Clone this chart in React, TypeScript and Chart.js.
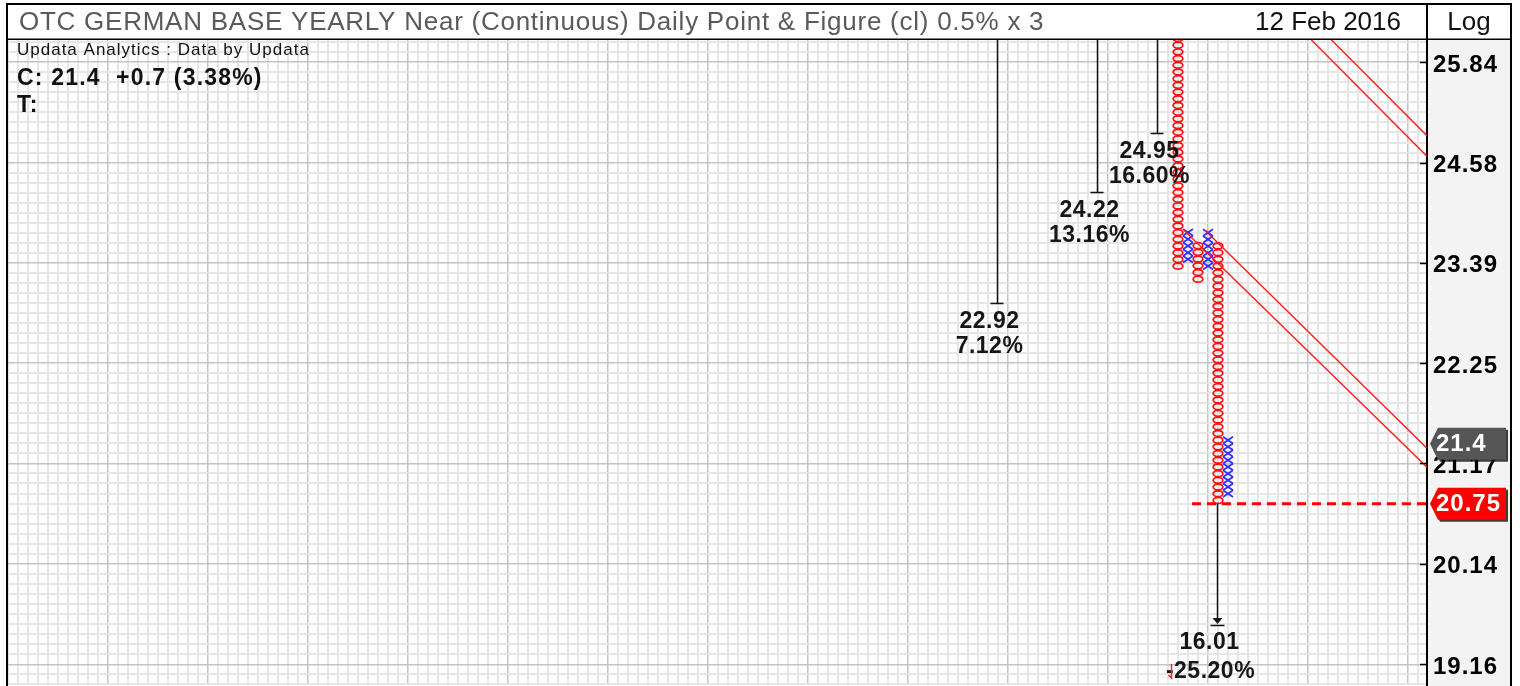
import React, { useEffect, useRef } from 'react';
import { Chart, registerables } from 'chart.js';

Chart.register(...registerables);

const FONT = '"Liberation Sans", Arial, Helvetica, sans-serif';

// ---- texts ----
const titleText = 'OTC GERMAN BASE YEARLY Near (Continuous) Daily Point & Figure (cl) 0.5% x 3';
const dateText = '12 Feb 2016';
const scaleText = 'Log';
const sourceText = 'Updata Analytics : Data by Updata';
const closeText = 'C: 21.4  +0.7 (3.38%)';
const trendText = 'T:';

// ---- axis tick labels (log scale) ----
const yTickLabels = [19.16, 20.14, 21.17, 22.25, 23.39, 24.58, 25.84];
const boxesPerTick = 15;

// ---- point & figure columns ----
const colIndex = [117, 118, 119, 120, 121, 122];
const colType = ['O', 'X', 'O', 'X', 'O', 'X'];
const colLow = [23.31, 23.39, 23.16, 23.31, 20.75, 20.82];
const colHigh = [26.5, 23.78, 23.62, 23.78, 23.62, 21.45];

// ---- price targets ----
const upTargetCols = [99, 109, 115];
const upTargetValues = [22.92, 24.22, 24.95];
const upTargetPcts = ['7.12%', '13.16%', '16.60%'];

const downTargetCol = 121;
const downTargetFrom = 20.75;
const downTargetValue = 16.01;
const downTargetPct = '-25.20%';

// ---- 45 degree trend lines ----
const trendStartCol = [132.3, 130.3, 119.7, 117.5];
const trendStartPrice = [26.13, 26.13, 23.77, 23.78];
const trendEndCol = [141.9, 141.9, 141.9, 141.9];
const trendEndPrice = [24.91, 24.66, 21.33, 21.13];

// ---- reversal level / last close ----
const reversalStartCol = 118.4;
const reversalLevel = 20.75;
const lastClose = 21.4;

const X_MIN = 0;
const X_MAX = 141.9;
const Y_MIN = 18.964;
const Y_MAX = 26.124;

const MAJOR_GRID = '#c4c4c4';
const MINOR_GRID = '#e6e6e6';

function buildYTicks() {
  const out: any[] = [];
  const first = yTickLabels[0];
  const last = yTickLabels[yTickLabels.length - 1];
  const r = Math.pow(yTickLabels[1] / yTickLabels[0], 1 / 10);
  for (let s = 3; s >= 1; s--) out.push({ value: first / Math.pow(r, s), isMajorTick: false });
  for (let i = 0; i < yTickLabels.length; i++) {
    out.push({ value: yTickLabels[i], isMajorTick: true });
    if (i < yTickLabels.length - 1) {
      const lo = yTickLabels[i];
      const hi = yTickLabels[i + 1];
      for (let s = 1; s < 10; s++) out.push({ value: lo * Math.pow(hi / lo, s / 10), isMajorTick: false });
    }
  }
  for (let s = 1; s <= 3; s++) out.push({ value: last * Math.pow(r, s), isMajorTick: false });
  return out.filter((t) => t.value >= Y_MIN && t.value <= Y_MAX);
}

function buildXTicks() {
  const out: any[] = [];
  for (let i = Math.ceil(X_MIN); i <= X_MAX; i++) out.push({ value: i, isMajorTick: i % 10 === 0 });
  return out;
}

function setSpacing(ctx: any, px: number) {
  if ('letterSpacing' in ctx) ctx.letterSpacing = `${px}px`;
}

const backgroundPlugin = {
  id: 'pfBackground',
  beforeDraw(chart: any) {
    const { ctx, chartArea: a } = chart;
    ctx.save();
    ctx.fillStyle = '#ffffff';
    ctx.fillRect(0, 0, chart.width, chart.height);
    ctx.fillStyle = '#f3f3f3';
    ctx.fillRect(a.right, a.top, 1511 - a.right, chart.height - a.top);
    ctx.restore();
    // wider letter spacing for axis labels, like the reference
    setSpacing(ctx, 1);
  },
};

const glyphPlugin = {
  id: 'pfGlyphs',
  beforeDatasetsDraw(chart: any) {
    const { ctx, chartArea: a, scales } = chart;
    const ys = scales.y;
    const meta = chart.getDatasetMeta(0);
    const box = Math.pow(yTickLabels[1] / yTickLabels[0], 1 / boxesPerTick);
    ctx.save();
    ctx.beginPath();
    ctx.rect(a.left, a.top, a.right - a.left, a.bottom - a.top);
    ctx.clip();
    ctx.lineWidth = 1.8;
    meta.data.forEach((el: any, i: number) => {
      const low = colLow[i];
      const high = colHigh[i];
      const n = Math.round(Math.log(high / low) / Math.log(box));
      const yb = ys.getPixelForValue(low);
      const step = yb - ys.getPixelForValue(low * box);
      const cx = el.x;
      for (let b = 0; b < n; b++) {
        const cy = yb - step * (b + 0.5);
        if (colType[i] === 'O') {
          ctx.strokeStyle = '#ff1010';
          ctx.beginPath();
          ctx.ellipse(cx, cy, 4.8, step / 2 - 0.4, 0, 0, Math.PI * 2);
          ctx.stroke();
        } else {
          ctx.strokeStyle = '#3030ff';
          const hw = 5;
          const hh = step / 2;
          ctx.beginPath();
          ctx.moveTo(cx - hw, cy - hh);
          ctx.lineTo(cx + hw, cy + hh);
          ctx.moveTo(cx + hw, cy - hh);
          ctx.lineTo(cx - hw, cy + hh);
          ctx.stroke();
        }
      }
    });
    ctx.restore();
  },
};

function drawTag(ctx: any, cy: number, fill: string, text: string) {
  const L = 1430;
  const R = 1506;
  const h = 16;
  const path = (dx: number, dy: number) => {
    ctx.beginPath();
    ctx.moveTo(L + dx, cy + dy);
    ctx.lineTo(L + 8 + dx, cy - h + dy);
    ctx.lineTo(R + dx, cy - h + dy);
    ctx.lineTo(R + dx, cy + h + dy);
    ctx.lineTo(L + 8 + dx, cy + h + dy);
    ctx.closePath();
  };
  ctx.fillStyle = 'rgba(0,0,0,0.75)';
  path(2, 2);
  ctx.fill();
  ctx.fillStyle = fill;
  path(0, 0);
  ctx.fill();
  ctx.fillStyle = '#ffffff';
  ctx.font = `bold 24px ${FONT}`;
  setSpacing(ctx, 1);
  ctx.textAlign = 'left';
  ctx.textBaseline = 'middle';
  ctx.fillText(text, L + 6, cy + 1);
}

const annotationPlugin = {
  id: 'pfAnnotations',
  afterDatasetsDraw(chart: any) {
    const { ctx, chartArea: a, scales } = chart;
    const xs = scales.x;
    const ys = scales.y;
    ctx.save();
    ctx.beginPath();
    ctx.rect(a.left, a.top, a.right - a.left, a.bottom - a.top);
    ctx.clip();
    ctx.strokeStyle = '#111111';
    ctx.fillStyle = '#161616';
    ctx.lineWidth = 1.5;
    ctx.font = `bold 23px ${FONT}`;
    setSpacing(ctx, 0.5);
    ctx.textAlign = 'center';
    ctx.textBaseline = 'middle';
    upTargetCols.forEach((c, i) => {
      const x = Math.round(xs.getPixelForValue(c)) - 0.5;
      const y = Math.round(ys.getPixelForValue(upTargetValues[i])) + 0.5;
      ctx.beginPath();
      ctx.moveTo(x, a.top);
      ctx.lineTo(x, y);
      ctx.moveTo(x - 7, y);
      ctx.lineTo(x + 6, y);
      ctx.stroke();
      ctx.fillText(upTargetValues[i].toFixed(2), x - 8, y + 18);
      ctx.fillText(upTargetPcts[i], x - 8, y + 43);
    });
    // down target
    const dx = Math.round(xs.getPixelForValue(downTargetCol)) - 0.5;
    const dy0 = ys.getPixelForValue(downTargetFrom);
    const dyEnd = a.bottom - 60;
    ctx.beginPath();
    ctx.moveTo(dx, dy0);
    ctx.lineTo(dx, dyEnd - 4);
    ctx.stroke();
    ctx.beginPath();
    ctx.moveTo(dx - 5, dyEnd - 7);
    ctx.lineTo(dx + 5, dyEnd - 7);
    ctx.lineTo(dx, dyEnd - 1);
    ctx.closePath();
    ctx.fill();
    ctx.beginPath();
    ctx.moveTo(dx - 7, dyEnd + 0.5);
    ctx.lineTo(dx + 7, dyEnd + 0.5);
    ctx.stroke();
    ctx.fillText(downTargetValue.toFixed(2), dx - 8, dyEnd + 18);
    ctx.fillText(downTargetPct, dx - 7, dyEnd + 47);
    // small red marker by the down-count percentage
    ctx.strokeStyle = '#ff2020';
    ctx.lineWidth = 1.5;
    ctx.beginPath();
    ctx.moveTo(dx - 46, dyEnd + 39);
    ctx.lineTo(dx - 46, dyEnd + 53);
    ctx.lineTo(dx - 49, dyEnd + 50);
    ctx.stroke();
    ctx.restore();
  },
  afterDraw(chart: any) {
    const { ctx, chartArea: a, scales } = chart;
    const ys = scales.y;
    ctx.save();
    // frame
    ctx.strokeStyle = '#000000';
    ctx.lineWidth = 2;
    ctx.beginPath();
    ctx.moveTo(6, 4);
    ctx.lineTo(1512, 4);
    ctx.moveTo(7, 4);
    ctx.lineTo(7, chart.height);
    ctx.moveTo(1511, 4);
    ctx.lineTo(1511, chart.height);
    ctx.moveTo(a.right, 4);
    ctx.lineTo(a.right, a.top);
    ctx.stroke();
    ctx.lineWidth = 1.5;
    ctx.beginPath();
    ctx.moveTo(6, 39.25);
    ctx.lineTo(1512, 39.25);
    ctx.stroke();
    // header texts
    ctx.textBaseline = 'middle';
    ctx.font = `26px ${FONT}`;
    setSpacing(ctx, 0.75);
    ctx.fillStyle = '#5a5a5a';
    ctx.textAlign = 'left';
    ctx.fillText(titleText, 19, 23);
    ctx.fillStyle = '#111111';
    setSpacing(ctx, 0);
    ctx.textAlign = 'right';
    ctx.fillText(dateText, 1401, 23);
    ctx.textAlign = 'center';
    ctx.fillText(scaleText, 1469, 23);
    // info texts
    ctx.textAlign = 'left';
    ctx.font = `17px ${FONT}`;
    setSpacing(ctx, 1);
    ctx.fillText(sourceText, 17, 50);
    ctx.font = `bold 23px ${FONT}`;
    setSpacing(ctx, 1.2);
    ctx.fillText(closeText, 17, 79);
    ctx.fillText(trendText, 17, 106);
    // axis tick marks
    ctx.lineWidth = 1.5;
    ctx.strokeStyle = '#000000';
    yTickLabels.forEach((v) => {
      const y = Math.round(ys.getPixelForValue(v)) + 0.5;
      ctx.beginPath();
      ctx.moveTo(a.right - 7, y);
      ctx.lineTo(a.right, y);
      ctx.stroke();
    });
    // value tags
    drawTag(ctx, ys.getPixelForValue(lastClose) + 2, '#555555', String(lastClose));
    drawTag(ctx, ys.getPixelForValue(reversalLevel), '#ff0000', reversalLevel.toFixed(2));
    ctx.restore();
    setSpacing(ctx, 0);
  },
};

function noPadding(s: any) {
  s.paddingTop = 0;
  s.paddingBottom = 0;
  s.paddingLeft = 0;
  s.paddingRight = 0;
}

function makeConfig(): any {
  const trendDatasets = trendStartCol.map((_, i) => ({
    type: 'line',
    data: [
      { x: trendStartCol[i], y: trendStartPrice[i] },
      { x: trendEndCol[i], y: trendEndPrice[i] },
    ],
    borderColor: '#ff1a1a',
    borderWidth: 1.4,
    pointRadius: 0,
    fill: false,
  }));
  return {
    type: 'bar',
    data: {
      datasets: [
        {
          type: 'bar',
          data: colIndex.map((x, i) => ({ x, y: [colLow[i], colHigh[i]] })),
          backgroundColor: 'rgba(0,0,0,0)',
          borderWidth: 0,
        },
        ...trendDatasets,
        {
          type: 'line',
          data: [
            { x: reversalStartCol, y: reversalLevel },
            { x: X_MAX, y: reversalLevel },
          ],
          borderColor: '#ff0000',
          borderWidth: 3,
          borderDash: [9, 6],
          pointRadius: 0,
          fill: false,
        },
      ],
    },
    options: {
      animation: false,
      responsive: false,
      devicePixelRatio: 1,
      events: [],
      layout: { padding: { left: 8, right: 5, top: 40, bottom: 1 } },
      plugins: { legend: { display: false }, tooltip: { enabled: false }, title: { display: false } },
      scales: {
        x: {
          type: 'linear',
          min: X_MIN,
          max: X_MAX,
          offset: false,
          afterBuildTicks: (s: any) => {
            s.ticks = buildXTicks();
          },
          afterFit: (s: any) => {
            s.height = 0;
            noPadding(s);
          },
          ticks: { display: false },
          border: { display: false },
          grid: {
            offset: false,
            drawTicks: false,
            color: (c: any) => (c.tick && c.tick.isMajorTick ? MAJOR_GRID : MINOR_GRID),
            lineWidth: (c: any) => (c.tick && c.tick.isMajorTick ? 1.5 : 2),
          },
        },
        y: {
          type: 'logarithmic',
          position: 'right',
          min: Y_MIN,
          max: Y_MAX,
          beginAtZero: false,
          afterBuildTicks: (s: any) => {
            s.ticks = buildYTicks();
          },
          afterFit: (s: any) => {
            s.width = 88;
            noPadding(s);
          },
          ticks: {
            autoSkip: false,
            padding: 6,
            labelOffset: 3,
            color: '#000000',
            font: { family: FONT, size: 24, weight: 'bold' },
            callback: (v: any, i: number, ticks: any[]) =>
              ticks[i] && ticks[i].isMajorTick ? Number(v).toFixed(2) : '',
          },
          border: { display: true, color: '#000000', width: 2 },
          grid: {
            drawTicks: false,
            color: (c: any) => (c.tick && c.tick.isMajorTick ? MAJOR_GRID : MINOR_GRID),
            lineWidth: (c: any) => (c.tick && c.tick.isMajorTick ? 1.5 : 2),
          },
        },
      },
    },
    plugins: [backgroundPlugin, glyphPlugin, annotationPlugin],
  };
}

export default function App() {
  const ref = useRef<HTMLCanvasElement>(null);
  useEffect(() => {
    document.body.style.margin = '0';
    document.body.style.overflow = 'hidden';
    const canvas = ref.current;
    if (!canvas) return;
    const chart = new Chart(canvas, makeConfig());
    return () => chart.destroy();
  }, []);
  return (
    <canvas
      ref={ref}
      width={1520}
      height={686}
      style={{ display: 'block', width: '1520px', height: '686px' }}
    />
  );
}
